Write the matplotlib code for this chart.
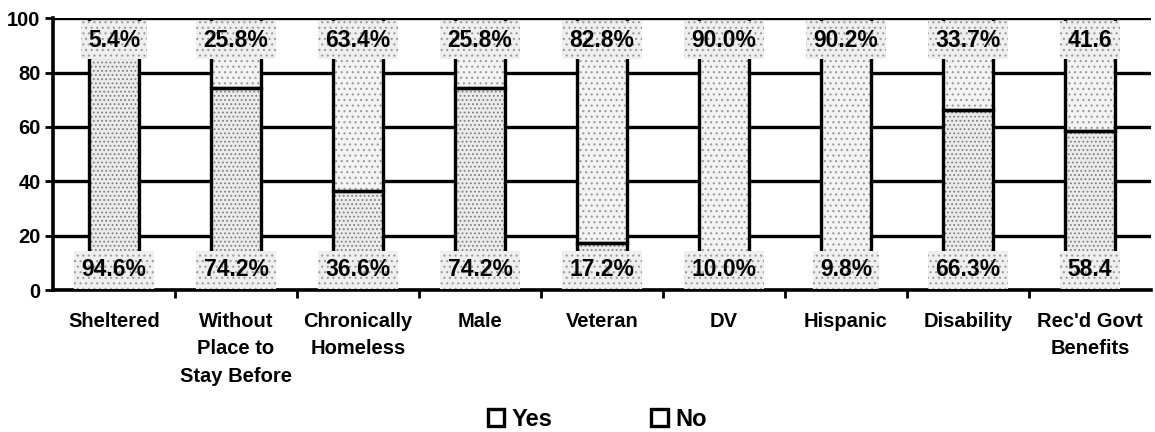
import matplotlib
matplotlib.use("Agg")
import matplotlib.pyplot as plt
import numpy as np

# categories and shares (percent)
categories = ["Sheltered", "Without\nPlace to\nStay Before", "Chronically\nHomeless",
              "Male", "Veteran", "DV", "Hispanic", "Disability", "Rec'd Govt\nBenefits"]
yes_vals = [94.6, 74.2, 36.6, 74.2, 17.2, 10.0, 9.8, 66.3, 58.4]
no_vals = [5.4, 25.8, 63.4, 25.8, 82.8, 90.0, 90.2, 33.7, 41.6]
yes_labels = ["94.6%", "74.2%", "36.6%", "74.2%", "17.2%", "10.0%", "9.8%", "66.3%", "58.4"]
no_labels = ["5.4%", "25.8%", "63.4%", "25.8%", "82.8%", "90.0%", "90.2%", "33.7%", "41.6"]
yticks = [0, 20, 40, 60, 80, 100]

plt.rcParams["font.family"] = ["Liberation Sans", "DejaVu Sans"]
plt.rcParams["font.weight"] = "bold"
plt.rcParams["hatch.linewidth"] = 0.8

fig = plt.figure(figsize=(11.55, 4.32), dpi=100)
ax = fig.add_axes([0.0459, 0.3287, 0.9506, 0.629])

x = np.arange(len(categories))
w = 0.41

# stippled fill first, black outlines on top
ax.bar(x, yes_vals, w, color="#ebebeb", edgecolor="#808080", linewidth=0,
       hatch="....", zorder=2)
ax.bar(x, no_vals, w, bottom=yes_vals, color="#f3f3f3", edgecolor="#999999",
       linewidth=0, hatch="...", zorder=2)
yes_out = ax.bar(x, yes_vals, w, fill=False, edgecolor="black", linewidth=2.4, zorder=3)
no_out = ax.bar(x, no_vals, w, bottom=yes_vals, fill=False, edgecolor="black",
                linewidth=2.4, zorder=3)

box = dict(boxstyle="square,pad=0.32", facecolor="#efefef", edgecolor="#9a9a9a",
           linewidth=0, hatch="...")
for i in range(len(categories)):
    ax.text(x[i], 92.0, no_labels[i], ha="center", va="center", fontsize=16.5,
            fontweight="bold", bbox=box, zorder=5)
    ax.text(x[i], 7.4, yes_labels[i], ha="center", va="center", fontsize=16.5,
            fontweight="bold", bbox=box, zorder=5)

ax.set_xlim(-0.5, len(categories) - 0.5)
ax.set_ylim(0, 100)
ax.set_yticks(yticks)
ax.set_yticklabels([str(v) for v in yticks], fontsize=14.5, fontweight="bold")
ax.set_xticks(x)
ax.set_xticklabels(categories, fontsize=14.5, fontweight="bold", linespacing=1.55)
ax.set_xticks(x[:-1] + 0.5, minor=True)
ax.tick_params(axis="x", which="major", length=0, pad=16)
ax.tick_params(axis="x", which="minor", length=6, width=2, direction="out")
ax.tick_params(axis="y", length=6, width=2, direction="out", pad=3)

ax.set_axisbelow(True)
ax.yaxis.grid(True, color="black", linewidth=2.4)
ax.spines["right"].set_visible(False)
ax.spines["top"].set_visible(False)
ax.spines["left"].set_linewidth(2.6)
ax.spines["bottom"].set_linewidth(2.6)

fig.legend(handles=[yes_out, no_out], labels=["Yes", "No"], loc="center",
           bbox_to_anchor=(0.517, 0.03), ncol=2, frameon=False,
           handlelength=0.7, handleheight=0.7, handletextpad=0.3, columnspacing=4.2,
           prop={"weight": "bold", "size": 17})

fig.savefig("out.png", dpi=100)
